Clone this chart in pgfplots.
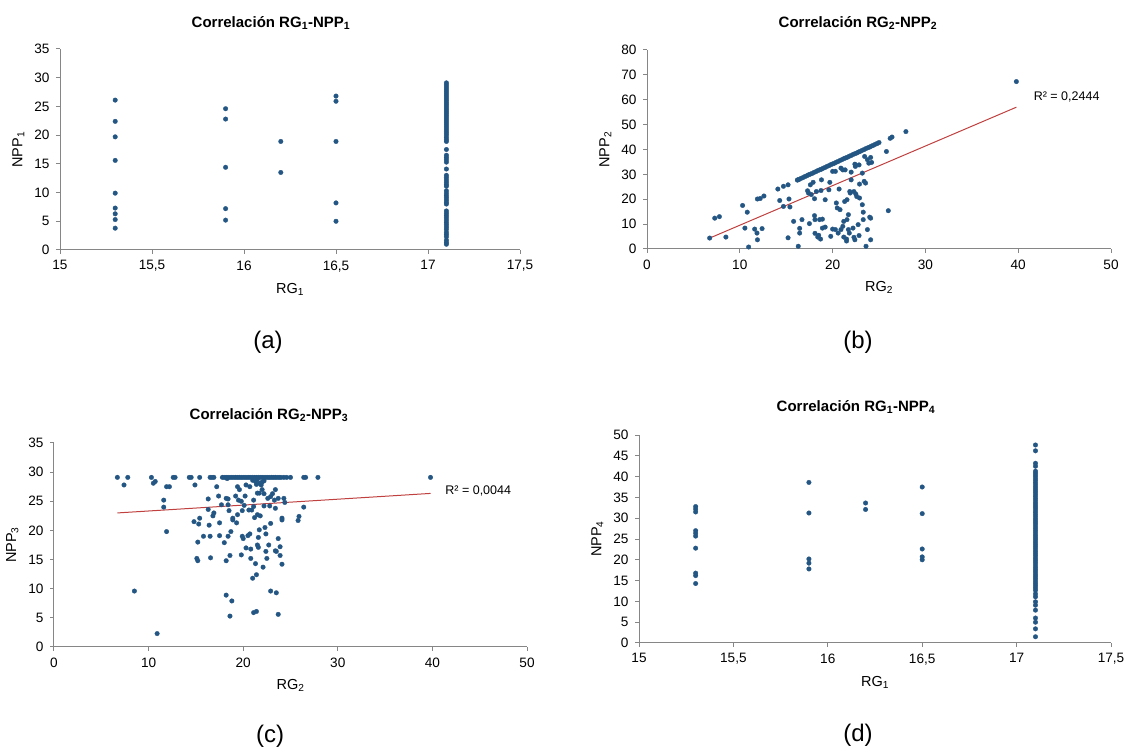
\documentclass[border=0pt]{standalone}
\usepackage{fontspec}
\setmainfont{Liberation Sans}
\usepackage{pgfplots}
\pgfplotsset{compat=1.18}
\definecolor{dotblue}{RGB}{36,86,132}
\definecolor{axgray}{RGB}{134,134,134}
\definecolor{trendred}{RGB}{192,64,64}
\pgfplotsset{
  panel/.style={
    scale only axis, anchor=south west,
    axis lines*=left,
    axis line style={draw=axgray, line width=1pt},
    tick style={draw=axgray, line width=1pt},
    major tick length=4pt, tick align=outside,
    tick label style={font=\fontsize{13.6}{15}\selectfont, text=black},
    xticklabel style={yshift=-3pt},
    yticklabel style={xshift=-3pt},
    label style={font=\fontsize{14.5}{16}\selectfont},
    xlabel style={yshift=-5pt},
    ylabel style={yshift=3pt},
    /pgf/number format/assume math mode=true,
    /pgf/number format/use comma,
    clip=false,
  },
  dots/.style={only marks, mark=*, mark size=2.3pt,
    mark options={draw=dotblue, fill=dotblue, line width=0.3pt}},
}
\begin{document}
\begin{tikzpicture}
\path[use as bounding box] (0pt,0pt) rectangle (1129pt,752pt);
% ---------------- (a) ----------------
\begin{axis}[panel, at={(60pt,502pt)}, width=460pt, height=201pt,
  xmin=15, xmax=17.5, ymin=0, ymax=35, xtick distance=0.5, ytick distance=5,
  xlabel={RG\textsubscript{1}}, ylabel={NPP\textsubscript{1}}]
\addplot[dots] coordinates {
(15.3,26.1) (15.3,22.4) (15.3,19.7) (15.3,15.6) (15.3,9.9) (15.3,7.3) (15.3,6.3) (15.3,5.3) (15.3,3.8)
(15.9,24.6) (15.9,22.8) (15.9,14.4) (15.9,7.2) (15.9,5.2)
(16.2,18.9) (16.2,13.5)
(16.5,26.8) (16.5,25.9) (16.5,18.9) (16.5,8.2) (16.5,5.0)
(17.1,29.1) (17.1,28.75) (17.1,28.4) (17.1,28.05) (17.1,27.7) (17.1,27.35) (17.1,27.0) (17.1,26.65)
(17.1,26.3) (17.1,25.95) (17.1,25.6) (17.1,25.25) (17.1,24.9) (17.1,24.55) (17.1,24.2) (17.1,23.85)
(17.1,23.5) (17.1,23.15) (17.1,22.8) (17.1,22.45) (17.1,22.1) (17.1,21.75) (17.1,21.4) (17.1,21.05)
(17.1,20.7) (17.1,20.35) (17.1,20.0) (17.1,19.6) (17.1,19.2) (17.1,18.9)
(17.1,17.5) (17.1,16.5) (17.1,16.1) (17.1,15.7) (17.1,15.3) (17.1,14.1) (17.1,13.0) (17.1,12.6)
(17.1,12.2) (17.1,11.8) (17.1,11.4) (17.1,11.1) (17.1,10.3) (17.1,9.9) (17.1,9.5) (17.1,9.1)
(17.1,8.7) (17.1,8.3) (17.1,8.0) (17.1,6.8) (17.1,6.4) (17.1,6.0) (17.1,5.6) (17.1,5.2) (17.1,4.8)
(17.1,4.4) (17.1,4.0) (17.1,3.6) (17.1,3.1) (17.1,2.7) (17.1,2.3) (17.1,1.7) (17.1,1.3) (17.1,1.0)
};
\end{axis}
% ---------------- (b) ----------------
\begin{axis}[panel, at={(647pt,503pt)}, width=464pt, height=199pt,
  xmin=0, xmax=50, ymin=0, ymax=80, xtick distance=10, ytick distance=10,
  xlabel={RG\textsubscript{2}}, ylabel={NPP\textsubscript{2}}]
\addplot[dots] coordinates {
(6.75,4.4) (7.3,12.4) (7.8,13.0) (8.5,4.8) (10.3,17.5) (10.55,8.4) (10.8,14.8) (10.95,0.8)
(11.6,8.0) (11.85,6.4) (11.9,3.7) (11.9,20.1) (12.2,20.3) (12.4,8.2) (12.6,21.3) (14.1,24.1)
(14.3,19.5) (14.7,17.1) (14.7,25.2) (15.2,25.8) (15.2,4.5) (15.3,20.1) (15.4,16.9) (15.8,11.1)
(16.25,27.8) (16.3,1.1) (16.45,8.3) (16.45,6.4) (16.7,11.8) (17.3,23.4) (17.4,22.5) (17.5,10.2)
(17.6,25.8) (17.7,21.9) (17.9,26.8) (18.05,20.2) (18.05,13.4) (18.1,11.8) (18.1,6.3) (18.25,23.1)
(18.4,4.8) (18.5,5.5) (18.6,11.8) (18.7,4.0) (18.75,23.5) (18.8,27.8) (18.9,8.4) (18.9,12.0)
(19.2,8.8) (19.2,19.8) (19.6,23.8) (19.7,26.8) (19.8,5.1) (20.0,31.2) (20.0,8.0) (20.3,7.8)
(20.3,31.2) (20.4,18.5) (20.5,16.5) (20.6,6.4) (20.7,24.1) (20.8,15.8) (20.9,32.5) (20.9,7.8)
(21.1,9.1) (21.1,31.8) (21.2,11.1) (21.2,4.8) (21.3,19.1) (21.35,31.8) (21.5,4.0) (21.5,3.2)
(21.55,19.8) (21.55,11.8) (21.7,7.8) (21.7,13.8) (21.8,6.4) (21.85,23.1) (21.9,22.5) (22.0,30.9)
(22.0,27.8) (22.2,8.4) (22.3,23.1) (22.3,4.7) (22.4,34.1) (22.4,3.7) (22.45,33.2) (22.5,22.1)
(22.6,21.1) (22.75,9.8) (22.85,5.4) (22.85,33.8) (22.9,26.1) (22.9,20.5) (23.2,30.5) (23.2,17.8)
(23.3,14.8) (23.3,11.8) (23.4,27.2) (23.45,37.2) (23.55,26.5) (23.6,1.1) (23.75,7.8) (23.75,35.9)
(23.9,34.5) (24.0,12.8) (24.1,12.4) (24.1,36.8) (24.1,3.7) (24.2,34.8) (25.8,39.2) (26.0,15.4)
(26.2,44.5) (26.4,45.0) (27.9,47.2) (39.8,67.3)
(16.2,27.7) (16.4,28.0) (16.6,28.4) (16.8,28.7) (17.0,29.1) (17.2,29.4) (17.4,29.8) (17.6,30.1)
(17.8,30.4) (18.0,30.8) (18.2,31.1) (18.4,31.5) (18.6,31.8) (18.8,32.1) (19.0,32.5) (19.2,32.8)
(19.4,33.2) (19.6,33.5) (19.8,33.9) (20.0,34.2) (20.2,34.5) (20.4,34.9) (20.6,35.2) (20.8,35.6)
(21.0,35.9) (21.2,36.3) (21.4,36.6) (21.6,36.9) (21.8,37.3) (22.0,37.6) (22.2,38.0) (22.4,38.3)
(22.6,38.6) (22.8,39.0) (23.0,39.3) (23.2,39.7) (23.4,40.0) (23.6,40.4) (23.8,40.7) (24.0,41.0)
(24.2,41.4) (24.4,41.7) (24.6,42.1) (24.8,42.4) (25.0,42.8)
};
\addplot[trendred, line width=1pt] coordinates {(6.7,4.3) (39.8,57.0)};
\node[font=\fontsize{12.5}{14}\selectfont, anchor=west] at (axis cs:41.3,61.2) {R² = 0,2444};
\end{axis}
% ---------------- (c) ----------------
\begin{axis}[panel, at={(54pt,105pt)}, width=473pt, height=204pt,
  xmin=0, xmax=50, ymin=0, ymax=35, xtick distance=10, ytick distance=5,
  xlabel={RG\textsubscript{2}}, ylabel={NPP\textsubscript{3}}]
\addplot[dots] coordinates {
(6.7,29.1) (7.8,29.1) (10.3,29.1) (12.6,29.1) (12.8,29.1) (14.3,29.1) (14.5,29.1) (15.4,29.1)
(16.5,29.1) (16.7,29.1) (16.9,29.1) (17.8,29.1) (18.0,29.1) (18.2,29.1) (18.4,29.1) (18.6,29.1)
(18.8,29.1) (19.0,29.1) (19.2,29.1) (19.4,29.1) (19.6,29.1) (19.8,29.1) (20.0,29.1) (20.2,29.1)
(20.4,29.1) (20.6,29.1) (20.8,29.1) (21.0,29.1) (21.2,29.1) (21.4,29.1) (21.6,29.1) (21.8,29.1)
(22.0,29.1) (22.2,29.1) (22.4,29.1) (22.6,29.1) (22.8,29.1) (23.0,29.1) (23.2,29.1) (23.4,29.1)
(23.6,29.1) (23.8,29.1) (24.0,29.1) (24.3,29.1) (24.6,29.1) (25.0,29.1) (26.4,29.1) (26.6,29.1)
(27.9,29.1) (39.8,29.1)
(18.3,28.9) (21.0,28.6) (21.3,28.4) (21.7,28.1) (22.0,28.3) (22.2,28.5) (21.5,28.8)
(7.4,27.8) (8.5,9.6) (10.5,28.1) (10.7,28.4) (10.9,2.3) (11.6,25.2) (11.6,24.0) (11.9,19.8)
(11.9,27.5) (12.2,27.5) (14.8,21.5) (14.9,27.8) (15.1,15.2) (15.2,14.8) (15.2,18.0) (15.3,21.1)
(15.4,22.1) (15.8,19.0) (16.3,23.6) (16.3,25.4) (16.4,20.9) (16.5,19.0) (16.55,15.3) (16.8,22.5)
(16.9,23.0) (17.2,27.5) (17.4,25.9) (17.5,21.3) (17.5,19.1) (17.7,24.4) (18.0,17.9) (18.2,14.8)
(18.2,8.9) (18.2,25.5) (18.4,24.4) (18.4,19.0) (18.4,25.4) (18.5,23.4) (18.6,5.3) (18.6,15.7)
(18.7,19.8) (18.8,7.9) (18.9,22.1) (18.9,21.8) (19.2,25.9) (19.3,21.3) (19.4,27.5) (19.4,22.7)
(19.5,25.2) (19.6,27.0) (19.8,25.0) (19.8,15.8) (19.9,23.4) (19.9,19.0) (20.0,18.6) (20.1,24.3)
(20.2,25.9) (20.3,27.8) (20.3,17.0) (20.5,19.1) (20.6,23.5) (20.7,19.4) (20.7,27.5) (20.8,16.8)
(20.8,15.2) (20.9,23.5) (21.0,11.8) (21.1,5.9) (21.1,25.2) (21.1,24.1) (21.2,22.2) (21.3,14.3)
(21.4,12.4) (21.4,6.1) (21.4,27.9) (21.5,26.4) (21.5,22.7) (21.5,17.5) (21.6,17.1) (21.6,18.8)
(21.7,26.4) (21.7,20.1) (21.8,22.5) (21.9,27.8) (22.0,27.0) (22.1,13.7) (22.2,24.2) (22.2,26.3)
(22.3,20.5) (22.4,16.4) (22.4,19.4) (22.5,15.2) (22.6,25.5) (22.7,17.5) (22.8,24.2) (22.9,21.2)
(22.9,9.6) (22.9,25.8) (23.1,26.3) (23.3,25.2) (23.4,16.5) (23.4,27.0) (23.4,23.8) (23.5,9.3)
(23.5,16.4) (23.7,18.6) (23.7,25.5) (23.7,5.6) (23.9,15.7) (23.9,17.2) (24.1,14.2) (24.1,22.1)
(24.1,21.8) (24.3,25.5) (24.4,24.8) (25.8,21.7) (25.9,22.4) (26.4,24.0)
};
\addplot[trendred, line width=1pt] coordinates {(6.7,23.0) (39.8,26.35)};
\node[font=\fontsize{12.5}{14}\selectfont, anchor=west] at (axis cs:41.0,26.8) {R² = 0,0044};
\end{axis}
% ---------------- (d) ----------------
\begin{axis}[panel, at={(639pt,109pt)}, width=472pt, height=208pt,
  xmin=15, xmax=17.5, ymin=0, ymax=50, xtick distance=0.5, ytick distance=5,
  xlabel={RG\textsubscript{1}}, ylabel={NPP\textsubscript{4}}]
\addplot[dots] coordinates {
(15.3,32.8) (15.3,32.2) (15.3,31.5) (15.3,27.0) (15.3,26.4) (15.3,25.7) (15.3,22.8) (15.3,16.8)
(15.3,16.2) (15.3,14.3)
(15.9,38.6) (15.9,31.25) (15.9,20.2) (15.9,19.2) (15.9,17.8)
(16.2,33.65) (16.2,32.1)
(16.5,37.5) (16.5,31.1) (16.5,22.6) (16.5,20.7) (16.5,20.0)
(17.1,47.6) (17.1,46.2) (17.1,43.2) (17.1,42.5)
(17.1,41.3) (17.1,40.75) (17.1,40.2) (17.1,39.65) (17.1,39.1) (17.1,38.55) (17.1,38.0) (17.1,37.45)
(17.1,36.9) (17.1,36.35) (17.1,35.8) (17.1,35.25) (17.1,34.7) (17.1,34.15) (17.1,33.6) (17.1,33.05)
(17.1,32.5) (17.1,31.95) (17.1,31.4) (17.1,30.85) (17.1,30.3) (17.1,29.75) (17.1,29.2) (17.1,28.65)
(17.1,28.1) (17.1,27.55) (17.1,27.0) (17.1,26.45) (17.1,25.9) (17.1,25.35) (17.1,24.8) (17.1,24.25)
(17.1,23.7) (17.1,23.15) (17.1,22.6) (17.1,22.05) (17.1,21.5) (17.1,20.95) (17.1,20.4) (17.1,19.85)
(17.1,19.3) (17.1,18.75) (17.1,18.2) (17.1,17.65) (17.1,17.1) (17.1,16.55) (17.1,16.0) (17.1,15.45)
(17.1,14.9) (17.1,14.35) (17.1,13.8) (17.1,13.25) (17.1,12.7)
(17.1,11.8) (17.1,11.1) (17.1,9.9) (17.1,9.1) (17.1,7.9) (17.1,6.0) (17.1,5.0) (17.1,3.4) (17.1,1.5)
};
\end{axis}
% titles and captions
\node[font=\bfseries\fontsize{15}{18}\selectfont] at (271pt,729pt) {Correlación RG\textsubscript{1}-NPP\textsubscript{1}};
\node[font=\bfseries\fontsize{15}{18}\selectfont] at (858pt,729pt) {Correlación RG\textsubscript{2}-NPP\textsubscript{2}};
\node[font=\bfseries\fontsize{15}{18}\selectfont] at (269pt,337pt) {Correlación RG\textsubscript{2}-NPP\textsubscript{3}};
\node[font=\bfseries\fontsize{15}{18}\selectfont] at (856pt,345pt) {Correlación RG\textsubscript{1}-NPP\textsubscript{4}};
\node[font=\fontsize{24}{28}\selectfont] at (268pt,410pt) {(a)};
\node[font=\fontsize{24}{28}\selectfont] at (858pt,410pt) {(b)};
\node[font=\fontsize{24}{28}\selectfont] at (270pt,16pt) {(c)};
\node[font=\fontsize{24}{28}\selectfont] at (858pt,17pt) {(d)};
\end{tikzpicture}
\end{document}
